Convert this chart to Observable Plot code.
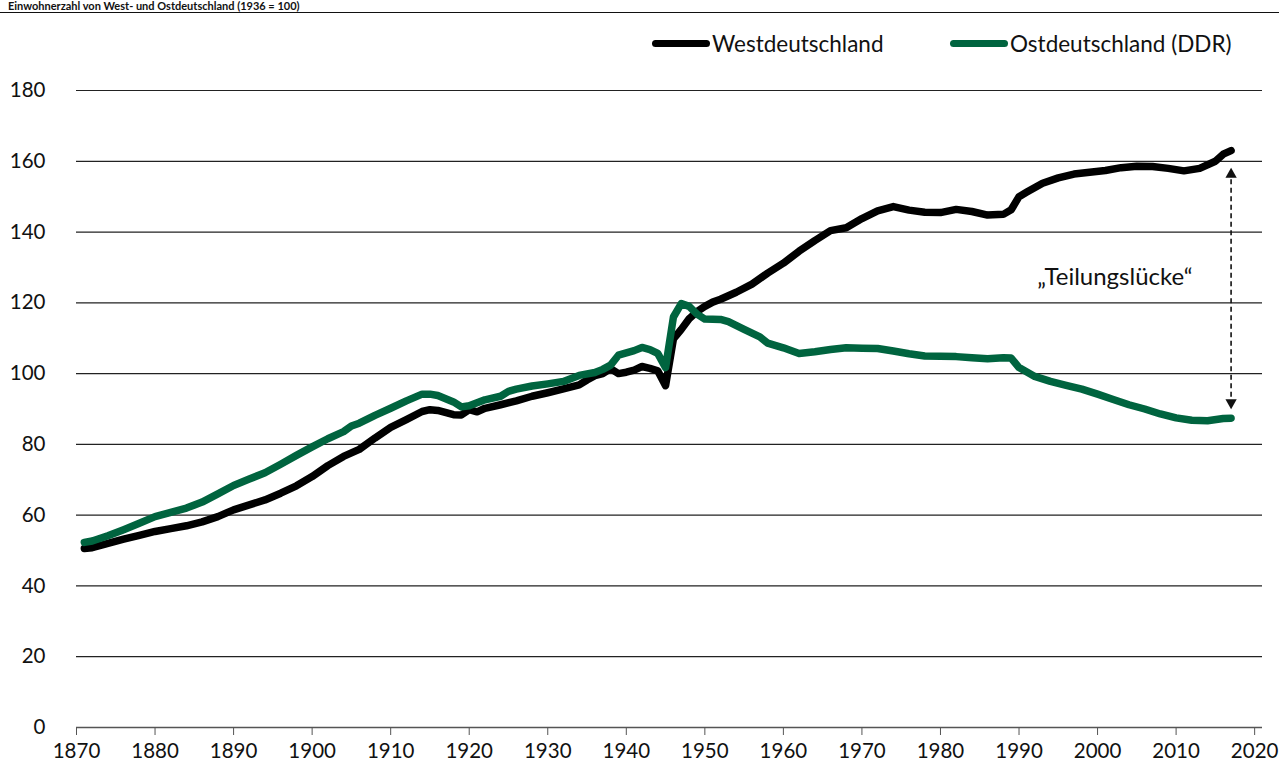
<!DOCTYPE html>
<html>
<head>
<meta charset="utf-8">
<script src="https://cdn.jsdelivr.net/npm/d3@7"></script>
<script src="https://cdn.jsdelivr.net/npm/@observablehq/plot@0.6"></script>
<style>
  html, body { margin: 0; padding: 0; background: #fff; }
  body { width: 1279px; height: 769px; position: relative; overflow: hidden; font-family: "Source Sans Pro", Lato, "Open Sans", sans-serif; color: #111; }
  #title { position: absolute; left: 8px; top: 0px; font-weight: bold; font-size: 11px; line-height: 11px; white-space: nowrap; }
  #rule { position: absolute; left: 0; right: 0; top: 12px; border-top: 1.5px solid #111; }
  #legend { position: absolute; top: 30px; left: 0; width: 1279px; height: 30px; }
  .item { position: absolute; display: flex; align-items: center; font-size: 22.5px; white-space: nowrap; }
  .sw { width: 58px; height: 7px; border-radius: 4px; margin-right: 2px; }
  #chart { position: absolute; left: 0; top: 60px; }
</style>
</head>
<body>
<div id="title">Einwohnerzahl von West- und Ostdeutschland (1936 = 100)</div>
<div id="rule"></div>
<div id="legend"></div>
<div id="chart"></div>
<script>
// ---- data ----
const seriesNames = ["Westdeutschland", "Ostdeutschland (DDR)"];
const seriesColors = ["#000000", "#00643F"];

const westYears = [1871,1872,1874,1876,1878,1880,1882,1884,1886,1888,1890,1892,1894,1896,1898,1900,1902,1904,1906,1908,1910,1912,1914,1915,1916,1918,1919,1920,1921,1922,1924,1926,1928,1930,1932,1934,1935,1936,1937,1938,1939,1940,1941,1942,1943,1944,1945,1946,1947,1948,1949,1950,1951,1952,1954,1956,1958,1960,1962,1964,1966,1968,1970,1972,1974,1976,1978,1980,1982,1984,1986,1988,1989,1990,1991,1993,1995,1997,1999,2001,2003,2005,2007,2009,2011,2013,2015,2016,2017];
const westValues = [50.6,50.8,52.0,53.2,54.3,55.4,56.2,57.0,58.1,59.6,61.5,62.9,64.3,66.2,68.3,70.9,74.0,76.6,78.6,81.8,84.8,87.0,89.3,89.8,89.6,88.4,88.3,89.8,89.2,90.2,91.2,92.3,93.6,94.6,95.7,96.8,98.2,99.4,100.0,101.4,100.0,100.4,101.0,102.0,101.5,100.8,96.6,109.8,112.5,115.5,117.5,119.0,120.2,121.0,123.0,125.3,128.4,131.2,134.6,137.6,140.4,141.2,143.8,146.0,147.2,146.2,145.6,145.5,146.4,145.8,144.8,145.0,146.3,150.0,151.3,153.8,155.3,156.4,156.9,157.4,158.2,158.6,158.5,158.0,157.3,158.0,160.0,162.0,163.0];

const eastYears = [1871,1872,1874,1876,1878,1880,1882,1884,1886,1888,1890,1892,1894,1896,1898,1900,1902,1904,1905,1906,1908,1910,1912,1914,1915,1916,1918,1919,1920,1922,1924,1925,1926,1928,1930,1932,1934,1936,1937,1938,1939,1941,1942,1943,1944,1945,1946,1947,1948,1949,1950,1952,1953,1955,1957,1958,1960,1962,1964,1966,1968,1970,1972,1974,1976,1978,1980,1982,1984,1986,1988,1989,1990,1992,1994,1996,1998,2000,2002,2004,2006,2008,2010,2012,2014,2016,2017];
const eastValues = [52.3,52.7,54.2,55.9,57.7,59.6,60.8,62.0,63.7,66.0,68.4,70.2,72.0,74.4,76.9,79.3,81.6,83.6,85.2,86.0,88.2,90.2,92.3,94.2,94.2,93.8,92.0,90.6,90.9,92.6,93.6,95.0,95.6,96.5,97.1,97.8,99.5,100.3,101.2,102.4,105.2,106.5,107.4,106.8,105.7,101.7,116.0,119.8,119.0,116.8,115.4,115.3,114.7,112.5,110.4,108.6,107.3,105.7,106.2,106.8,107.3,107.2,107.1,106.4,105.6,105.0,104.9,104.8,104.5,104.2,104.5,104.4,101.7,99.2,97.8,96.7,95.6,94.2,92.7,91.2,90.0,88.6,87.5,86.8,86.7,87.3,87.4];

const xTicks = [1870,1880,1890,1900,1910,1920,1930,1940,1950,1960,1970,1980,1990,2000,2010,2020];
const yTicks = [0,20,40,60,80,100,120,140,160,180];

// annotation: double-headed dashed arrow and label
const gapYear = 2017;
const gapTop = 157.9;
const gapBottom = 90.2;
const gapLabel = "„Teilungslücke“";
const gapLabelYear = 2002.2;
const gapLabelValue = 127.3;

// ---- build tables ----
const west = westYears.map((y, i) => ({year: y, value: westValues[i], series: seriesNames[0]}));
const east = eastYears.map((y, i) => ({year: y, value: eastValues[i], series: seriesNames[1]}));

// legend
const legend = document.getElementById("legend");
const legendX = [652, 950];
seriesNames.forEach((name, i) => {
  const it = document.createElement("div");
  it.className = "item";
  it.style.left = legendX[i] + "px";
  it.style.top = "0px";
  it.innerHTML = `<span class="sw" style="background:${seriesColors[i]}"></span><span>${name}</span>`;
  legend.appendChild(it);
});

const font = '"Source Sans Pro", Lato, "Open Sans", sans-serif';

const chart = Plot.plot({
  width: 1279,
  height: 709,
  marginTop: 30,
  marginBottom: 42,
  marginLeft: 76,
  marginRight: 17,
  style: {fontFamily: font, fontSize: "20px", color: "#111", background: "#fff", overflow: "visible"},
  x: {domain: [1870, 2021]},
  y: {domain: [0, 180]},
  marks: [
    Plot.ruleY(yTicks.filter(d => d > 0), {stroke: "#222", strokeWidth: 1.2}),
    Plot.ruleY([0], {stroke: "#555", strokeWidth: 1.6}),
    Plot.axisY({ticks: yTicks, tickSize: 0, tickPadding: 31, fontSize: 20.5, label: null}),
    Plot.axisX({ticks: xTicks, tickSize: 8, tickPadding: 8, tickFormat: d => String(d), fontSize: 20.5, stroke: "#555", label: null}),
    Plot.lineY(west, {x: "year", y: "value", stroke: seriesColors[0], strokeWidth: 7.5, strokeLinejoin: "round", strokeLinecap: "round"}),
    Plot.lineY(east, {x: "year", y: "value", stroke: seriesColors[1], strokeWidth: 7.5, strokeLinejoin: "round", strokeLinecap: "round"}),
    Plot.link([{x: gapYear, y1: gapTop - 3, y2: gapBottom + 3}], {x1: "x", x2: "x", y1: "y1", y2: "y2", stroke: "#111", strokeWidth: 1.6, strokeDasharray: "5,3.5"}),
    Plot.dot([{x: gapYear, y: gapTop - 1.6, r: 0}, {x: gapYear, y: gapBottom + 1.6, r: 180}], {x: "x", y: "y", rotate: "r", symbol: "triangle", r: 4.2, fill: "#111", stroke: "none"}),
    Plot.text([{x: gapLabelYear, y: gapLabelValue}], {x: "x", y: "y", text: () => gapLabel, fontSize: 24, fill: "#111", textAnchor: "middle"})
  ]
});
document.getElementById("chart").appendChild(chart);
</script>
</body>
</html>
